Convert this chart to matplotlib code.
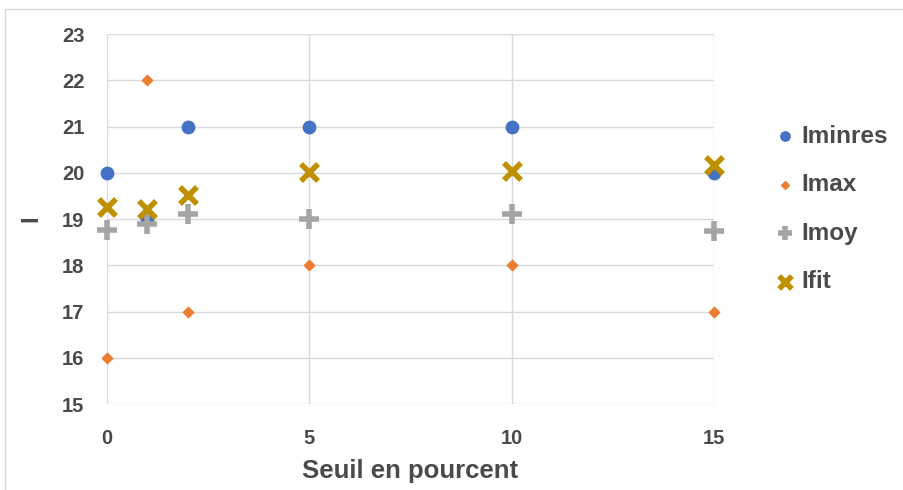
import matplotlib.pyplot as plt
from matplotlib.patches import Rectangle

# seuil en pourcent
seuil = [0, 1, 2, 5, 10, 15]

iminres = [20, 19, 21, 21, 21, 20]
imax = [16, 22, 17, 18, 18, 17]
imoy = [18.76, 18.9, 19.1, 19.0, 19.1, 18.75]
ifit = [19.26, 19.22, 19.52, 20.02, 20.04, 20.17]

txt = "#4a4a4a"
plt.rcParams["font.family"] = ["Liberation Sans", "DejaVu Sans"]

fig = plt.figure(figsize=(9.04, 4.90), dpi=100)
ax = fig.add_axes([0.118, 0.1755, 0.672, 0.755])

# thin frame round the whole chart
fig.patches.append(Rectangle((0.006, -0.01), 1.2, 0.992, transform=fig.transFigure,
                             fill=False, edgecolor="#d9d9d9", lw=1))

ax.scatter(seuil, iminres, marker="o", s=80, color="#4472C4", label="Iminres", zorder=3, clip_on=False)
ax.scatter(seuil, imax, marker="D", s=28, color="#ED7D31", label="Imax", zorder=3, clip_on=False)
ax.scatter(seuil, imoy, marker="+", s=190, linewidths=4, color="#A5A5A5", label="Imoy", zorder=3, clip_on=False)
ax.scatter(seuil, ifit, marker="x", s=150, linewidths=4, color="#BF9000", label="Ifit", zorder=4, clip_on=False)

ax.set_xlim(0, 15)
ax.set_ylim(15, 23)
ax.set_xticks([0, 5, 10, 15])
ax.set_yticks(range(15, 24))
ax.grid(True, color="#d9d9d9", lw=1)
ax.set_axisbelow(True)
for s in ax.spines.values():
    s.set_visible(False)
ax.tick_params(axis="y", length=0, labelsize=14.5, labelcolor=txt, pad=16)
ax.tick_params(axis="x", length=0, labelsize=14.5, labelcolor=txt, pad=18)
for lab in ax.get_xticklabels() + ax.get_yticklabels():
    lab.set_fontweight("bold")

ax.set_xlabel("Seuil en pourcent", fontsize=18.5, color=txt, fontweight="bold", labelpad=8)
ax.set_ylabel("I", fontsize=17, color=txt, fontweight="bold", labelpad=14)

leg = ax.legend(loc="center left", bbox_to_anchor=(1.077, 0.527), frameon=False,
                fontsize=17.5, labelspacing=1.05, handletextpad=0.15, borderpad=0,
                markerscale=0.75, handlelength=1.0)
for t in leg.get_texts():
    t.set_color(txt)
    t.set_fontweight("bold")

fig.savefig("out.png", dpi=100)
